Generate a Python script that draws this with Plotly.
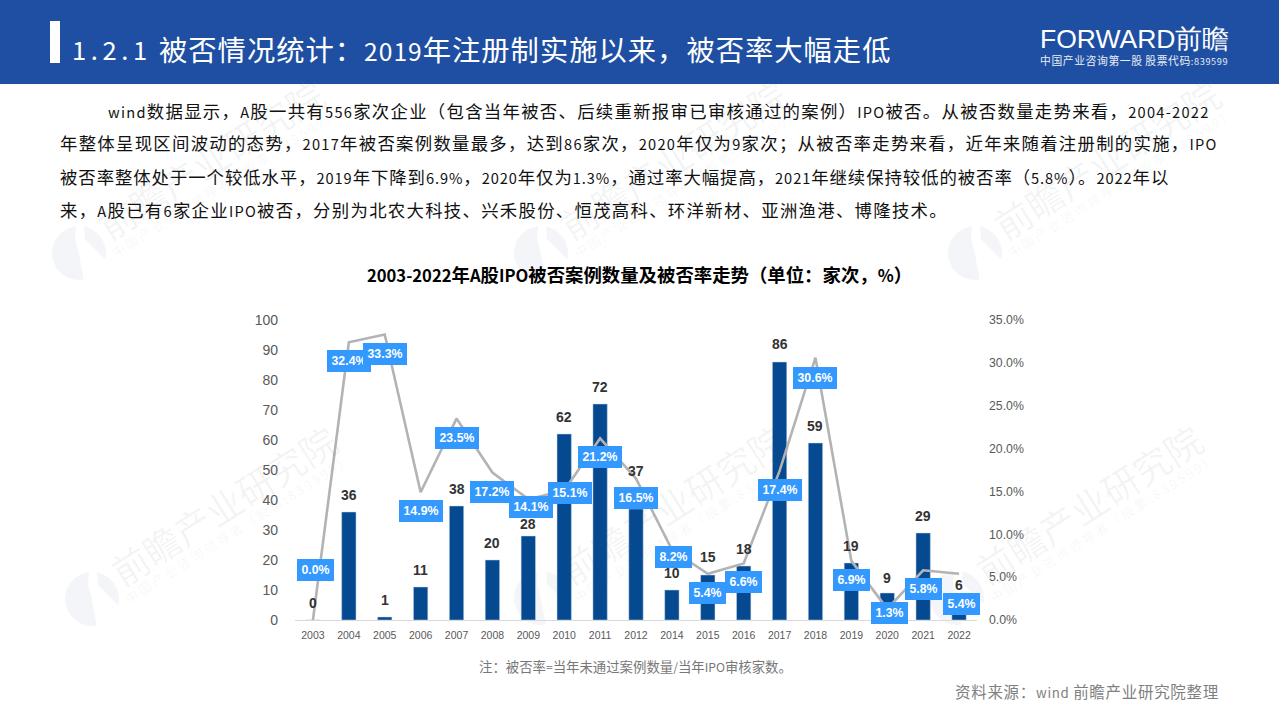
import re
import plotly.graph_objects as go

years = ["2003", "2004", "2005", "2006", "2007", "2008", "2009", "2010", "2011", "2012",
         "2014", "2015", "2016", "2017", "2018", "2019", "2020", "2021", "2022"]
cases = [0, 36, 1, 11, 38, 20, 28, 62, 72, 37, 10, 15, 18, 86, 59, 19, 9, 29, 6]
rates = [0.0, 32.4, 33.3, 14.9, 23.5, 17.2, 14.1, 15.1, 21.2, 16.5, 8.2, 5.4, 6.6, 17.4, 30.6, 6.9, 1.3, 5.8, 5.4]

title_num = "1.2.1"
title = "被否情况统计：2019年注册制实施以来，被否率大幅走低"
body_lines = [
    "wind数据显示，A股一共有556家次企业（包含当年被否、后续重新报审已审核通过的案例）IPO被否。从被否数量走势来看，2004-2022",
    "年整体呈现区间波动的态势，2017年被否案例数量最多，达到86家次，2020年仅为9家次；从被否率走势来看，近年来随着注册制的实施，IPO",
    "被否率整体处于一个较低水平，2019年下降到6.9%，2020年仅为1.3%，通过率大幅提高，2021年继续保持较低的被否率（5.8%）。2022年以",
    "来，A股已有6家企业IPO被否，分别为北农大科技、兴禾股份、恒茂高科、环洋新材、亚洲渔港、博隆技术。",
]
chart_title = "2003-2022年A股IPO被否案例数量及被否率走势（单位：家次，%）"
note = "注：被否率=当年未通过案例数量/当年IPO审核家数。"
source = "资料来源：wind 前瞻产业研究院整理"
logo_main = "FORWARD前瞻"
logo_sub = "中国产业咨询第一股 股票代码:839599"
wm_big = "前瞻产业研究院"
wm_small = "中国产业咨询领导者（股票:839599）"

# label offsets in px from the bar top / line point (positive = up)
case_dy = [17, 17, 17, 17, 17, 17, 12, 17, 17, 38, 17, 18, 17, 18, 17, 17, 15, 17, 17]
rate_dx = [3, 0, 0, 0, 0, 0, 3, 6, 0, 0, 2, 0, 0, 0, 0, 0, 2, 0, 2]
rate_dy = [50, -19, -19, -19, -19, -19, -8, -2, -19, -19, -7, -19, -19, -19, -20, -19, -4, -19, -30]

CJK = "Noto Sans CJK SC"
SANS = "Liberation Sans"
W, H = 1279, 719
# plotly keeps 8px top and bottom here, so paper height is 703
TOP, PH = 8, 703

def px(x):
    return x / W

def py(y):
    return 1 - (y - TOP) / PH

def half_width(text, size, spacing=0.0):
    # latin runs in the reference are half an em wide
    f = ((size + spacing) / 2 - spacing) / 0.555
    return re.sub(r"[\x21-\x7e ]+",
                  lambda m: '<span style="font-size:%.1fpx">%s</span>' % (f, m.group(0)),
                  text)

fig = go.Figure()
fig.add_trace(go.Bar(x=years, y=cases, marker=dict(color="#054a91", line=dict(color="#c9d6e6", width=0.5)),
                     width=0.4, yaxis="y", showlegend=False))
fig.add_trace(go.Scatter(x=years, y=rates, mode="lines", line=dict(color="#b3b3b3", width=2.6),
                         yaxis="y2", showlegend=False))

ann = []
def page_text(x, y, text, size, color="#111", anchor="left", font=CJK, spacing=0.0, **kw):
    if spacing:
        text = '<span style="letter-spacing:%.2fpx">%s</span>' % (spacing, text)
    # annotations pad their text by about 2px
    x = x - 2 if anchor == "left" else x + 2 if anchor == "right" else x
    ann.append(dict(xref="paper", yref="paper", x=px(x), y=py(y), text=text, showarrow=False,
                    xanchor=anchor, yanchor="middle", font=dict(family=font, size=size, color=color), **kw))

shapes = [
    dict(type="rect", xref="paper", yref="paper", x0=0, x1=1, y0=py(84), y1=py(0),
         fillcolor="#1f4fa2", line_width=0, layer="below"),
    dict(type="rect", xref="paper", yref="paper", x0=px(50), x1=px(60), y0=py(63), y1=py(21),
         fillcolor="white", line_width=0, layer="below"),
]

# watermarks, under everything else
WM = "rgba(60,70,90,0.06)"
notch = [(-3, -28), (5, -28), (6, -14), (28, 8), (28, 28), (5, 28), (-1, -4), (-4, -14)]
for cx, cy in [(92, 599), (541, 598), (957, 598), (79, 253), (541, 253), (975, 253)]:
    shapes.append(dict(type="circle", xref="paper", yref="paper", x0=px(cx - 27), x1=px(cx + 27),
                       y0=py(cy + 27), y1=py(cy - 27), fillcolor="#f4f5f8", line_width=0, layer="below"))
    path = "M" + " L".join("%.5f,%.5f" % (px(cx + a), py(cy + b)) for a, b in notch) + " Z"
    shapes.append(dict(type="path", xref="paper", yref="paper", path=path, fillcolor="white", line_width=0, layer="below"))
    page_text(cx + 131, cy - 94, wm_big, 37, color=WM, anchor="center", textangle=-32.4)
    page_text(cx + 146, cy - 71, wm_small, 13, color=WM, anchor="center", textangle=-32.4, spacing=2.5)

page_text(72, 49, title_num, 25.5, color="white", spacing=4.6)
page_text(159, 49, half_width(title, 28.3, 1.0), 28.3, color="white", spacing=1.0)
page_text(1040, 39, logo_main, 26.5, color="white", font=SANS)
page_text(1040, 60, half_width(logo_sub, 10.8, 0.6), 10.8, color="#e8edf6", spacing=0.6)

body_x = [108, 60, 60, 60]
body_y = [110, 143, 176, 210]
body_sp = [1.28, 1.27, 0.93, 1.28]
for line, bx, by, sp in zip(body_lines, body_x, body_y, body_sp):
    # the browser squeezes adjacent CJK punctuation unless the run is split
    text = half_width(line, 17.4, 1.2).replace("）。", '）<span style="font-size:17.41px">。</span>')
    page_text(bx, by, text, 17.4, spacing=sp)

page_text(639, 274, "<b>" + half_width(chart_title, 18.4) + "</b>", 18.4, color="#000", anchor="center")
page_text(635, 666, half_width(note, 13.4), 13.4, color="#777", anchor="center")
page_text(1219, 691, half_width(source, 15.5, 0.7), 15.5, color="#808080", anchor="right", spacing=0.7)

# numeric-looking categories have to be addressed by index in annotations
for i, (c, dy) in enumerate(zip(cases, case_dy)):
    ann.append(dict(x=i, y=c, xref="x", yref="y", text="<b>%d</b>" % c, showarrow=False, yshift=dy,
                    font=dict(family=SANS, size=14, color="#333")))
for i, (r, dx, dy) in enumerate(zip(rates, rate_dx, rate_dy)):
    ann.append(dict(x=i, y=r, xref="x", yref="y2", text="<b>%.1f%%</b>" % r, showarrow=False,
                    xshift=dx, yshift=dy, bgcolor="#3399ff", borderpad=0, borderwidth=0,
                    width=44 if r >= 10 else 37, height=22,
                    font=dict(family=SANS, size=12.3, color="white")))

fig.update_layout(
    width=W, height=H, autosize=False, margin=dict(l=0, r=0, t=0, b=0),
    plot_bgcolor="rgba(0,0,0,0)", paper_bgcolor="white",
    annotations=ann, shapes=shapes,
    xaxis=dict(domain=[px(295), px(977)], type="category", range=[-0.5, len(years) - 0.5], showgrid=False,
               ticks="", showline=True, linecolor="#d9d9d9", linewidth=1,
               tickfont=dict(family=SANS, size=10.5, color="#595959"),
               anchor="y", tickangle=0, ticklabelstandoff=5),
    yaxis=dict(domain=[py(620), py(320)], range=[0, 100], dtick=10, showgrid=False, zeroline=False,
               tickfont=dict(family=SANS, size=14, color="#595959"), ticks="", ticklabelstandoff=16),
    yaxis2=dict(domain=[py(620), py(320)], range=[0, 35], dtick=5, overlaying="y", side="right",
                showgrid=False, zeroline=False, ticksuffix="%", tickformat=".1f",
                tickfont=dict(family=SANS, size=12.3, color="#595959"), ticks="", ticklabelstandoff=11),
)

# drop the browser's default page margin so the header reaches the window edge
fig.write_html("out.html", config={"displayModeBar": False}, post_script="document.body.style.margin='0';")
